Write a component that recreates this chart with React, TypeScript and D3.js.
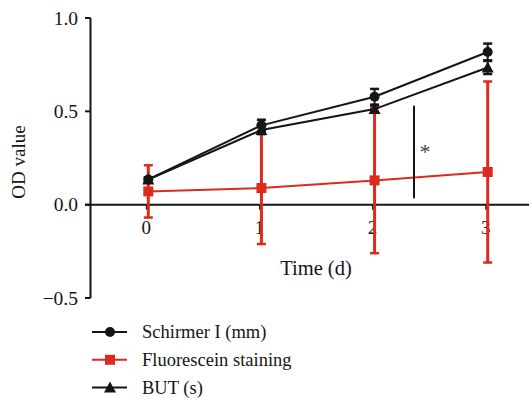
import { useMemo } from 'react';
import * as d3 from 'd3';

const days = [0, 1, 2, 3];
const schirmer = [0.135, 0.425, 0.578, 0.818];
const schirmerErr = [0.01, 0.03, 0.042, 0.045];
const fluorescein = [0.071, 0.089, 0.13, 0.175];
const fluoresceinErr = [0.14, 0.3, 0.39, 0.485];
const but = [0.135, 0.4, 0.512, 0.735];
const butErr = [0.01, 0.022, 0.02, 0.035];
const yTicks = [-0.5, 0, 0.5, 1.0];

const RED = '#dd2a1f';
const INK = '#151515';
const FONT = '"Liberation Serif", "DejaVu Serif", serif';

const width = 529;
const height = 398;

const fmt = (v: number) => (v < 0 ? '\u2212' : '') + Math.abs(v).toFixed(1);

const Marker = ({ kind, x, y, color }: { kind: string; x: number; y: number; color: string }) => {
  if (kind === 'circle') return <circle cx={x} cy={y} r={5} fill={color} />;
  if (kind === 'square') return <rect x={x - 5} y={y - 5} width={10} height={10} fill={color} />;
  return <path d={`M${x},${y - 6}L${x + 6},${y + 5}L${x - 6},${y + 5}Z`} fill={color} />;
};

export default function App() {
  const x = useMemo(() => d3.scaleLinear().domain([0, 3]).range([148.3, 487.7]), []);
  const y = useMemo(() => d3.scaleLinear().domain([-0.5, 1.0]).range([298, 18]), []);

  const line = d3
    .line<number>()
    .x((_, i) => x(days[i]))
    .y((d) => y(d));

  const series = [
    { name: 'Fluorescein staining', values: fluorescein, err: fluoresceinErr, color: RED, kind: 'square', ew: 3 },
    { name: 'BUT (s)', values: but, err: butErr, color: INK, kind: 'triangle', ew: 2 },
    { name: 'Schirmer I (mm)', values: schirmer, err: schirmerErr, color: INK, kind: 'circle', ew: 2 },
  ];
  const legend = [series[2], series[0], series[1]];

  return (
    <svg width={width} height={height} style={{ position: 'absolute', left: 0, top: 0 }} fontFamily={FONT}>
      {/* y axis */}
      <line x1={90.5} x2={90.5} y1={y(1.0)} y2={y(-0.5)} stroke={INK} strokeWidth={2} />
      {yTicks.map((t) => (
        <g key={t}>
          <line x1={85} x2={90.5} y1={y(t)} y2={y(t)} stroke={INK} strokeWidth={2} />
          <text x={78} y={y(t)} dy="0.35em" textAnchor="end" fontSize={19.5} fill={INK}>
            {fmt(t)}
          </text>
        </g>
      ))}
      <text
        transform={`translate(25,${(y(0) + y(0.5)) / 2 + 4}) rotate(-90)`}
        textAnchor="middle"
        fontSize={19}
        fill={INK}
      >
        OD value
      </text>

      {/* x axis at zero */}
      <line x1={85} x2={width} y1={y(0)} y2={y(0)} stroke={INK} strokeWidth={2} />
      {days.map((d) => (
        <g key={d}>
          <line x1={x(d) - 1.5} x2={x(d) - 1.5} y1={y(0)} y2={y(0) + 5} stroke={INK} strokeWidth={2} />
          <text x={x(d) - 2} y={234} textAnchor="middle" fontSize={19} fill={INK}>
            {d}
          </text>
        </g>
      ))}
      <text x={316} y={275} textAnchor="middle" fontSize={20.5} fill={INK}>
        Time (d)
      </text>

      {/* series */}
      {series.map((s) => (
        <g key={s.name}>
          <path d={line(s.values)!} fill="none" stroke={s.color} strokeWidth={2} />
          {s.values.map((v, i) => {
            const cx = x(days[i]);
            const top = y(v + s.err[i]);
            const bot = y(v - s.err[i]);
            return (
              <g key={i}>
                <line x1={cx} x2={cx} y1={top} y2={bot} stroke={s.color} strokeWidth={s.ew} />
                <line x1={cx - 4.5} x2={cx + 4.5} y1={top} y2={top} stroke={s.color} strokeWidth={2.5} />
                <line x1={cx - 4.5} x2={cx + 4.5} y1={bot} y2={bot} stroke={s.color} strokeWidth={2.5} />
                <Marker kind={s.kind} x={cx} y={y(v)} color={s.color} />
              </g>
            );
          })}
        </g>
      ))}

      {/* significance */}
      <line x1={414} x2={414} y1={y(0.53)} y2={y(0.035)} stroke={INK} strokeWidth={2} />
      <text x={425} y={y(0.31)} dy="0.55em" textAnchor="middle" fontSize={22} fill="#444">
        *
      </text>

      {/* legend */}
      {legend.map((s, i) => {
        const ly = 332 + i * 27.8;
        return (
          <g key={s.name}>
            <line x1={92} x2={127} y1={ly} y2={ly} stroke={s.color} strokeWidth={2} />
            <Marker kind={s.kind} x={110} y={ly} color={s.color} />
            <text x={142} y={ly} dy="0.32em" fontSize={18.5} fill={INK}>
              {s.name}
            </text>
          </g>
        );
      })}
    </svg>
  );
}
